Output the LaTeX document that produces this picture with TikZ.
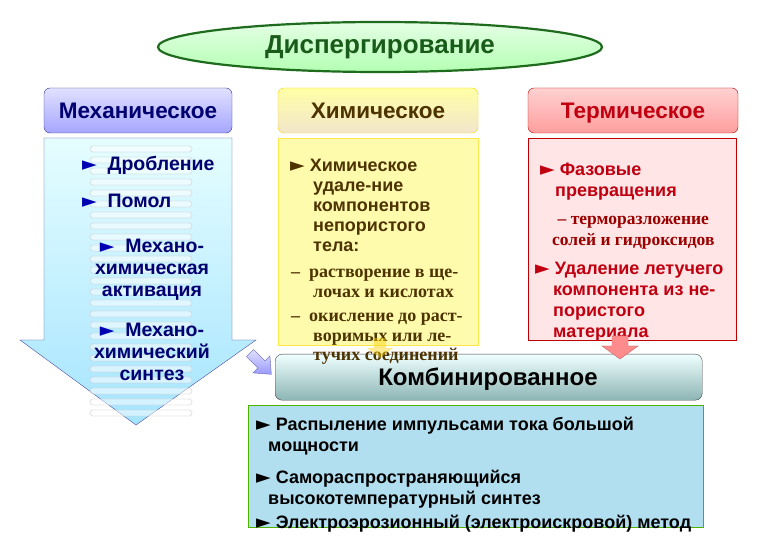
\documentclass[tikz,border=0pt]{standalone}
\usepackage{fontspec}
\setmainfont{Liberation Sans}
\newfontfamily\serifb{Liberation Serif}
\newfontfamily\dvs{DejaVu Sans}
\usetikzlibrary{shapes.geometric,shadings}
\definecolor{navy}{HTML}{000070}
\definecolor{brn}{HTML}{4D3300}
\definecolor{redt}{HTML}{C00010}
\definecolor{dgreen}{HTML}{1E6B1E}
\newcommand{\tri}{{\dvs\fontsize{19}{19}\selectfont ►}}
\tikzset{
  hdr/.style={rounded corners=6pt, minimum height=45pt, inner sep=0pt, text height=16pt, text depth=0pt, font=\bfseries\fontsize{22.5}{26}\selectfont},
  item/.style={anchor=north west, inner sep=0pt, align=left, font=\bfseries\fontsize{18}{21}\selectfont},
  mitem/.style={anchor=north, inner sep=0pt, align=center, font=\bfseries\fontsize{19.5}{22}\selectfont, text=navy},
  sitem/.style={anchor=north west, inner sep=0pt, align=left, font=\serifb\bfseries\fontsize{18}{19.5}\selectfont},
  spring/.style={draw=gray!40, fill=white, opacity=0.5, rounded corners=3pt, line width=0.9pt},
}
\begin{document}
\begin{tikzpicture}[x=1pt,y=-1pt]
\useasboundingbox[fill=white] (0,0) rectangle (780,540);

% ellipse title
\node[ellipse, draw=dgreen, line width=2.2pt, top color=green!10, bottom color=green!30!white,
      minimum width=444pt, minimum height=50pt, inner sep=0pt,
      font=\bfseries\fontsize{26}{28}\selectfont, text=dgreen!85!black] (title) at (380,47) {Диспергирование};

% headers
\node[hdr, draw=navy!80, top color=blue!12, bottom color=blue!35!white, text=navy, minimum width=188pt] (hmech) at (138,110.5) {Механическое};
\node[hdr, draw=yellow!70!orange, top color=yellow!35, bottom color=yellow!20!brown!25, text=brn, minimum width=200pt] (hchem) at (378,110.5) {Химическое};
\node[hdr, draw=red!75!black, top color=red!18, bottom color=red!38, text=redt, minimum width=210pt] (htherm) at (633,110.5) {Термическое};

% mechanical big arrow
\shade[top color=blue!6!cyan!10, bottom color=blue!30!cyan!35!white, draw=blue!45!black!70]
  (44,138) -- (232,138) -- (232,340) -- (256,340) -- (136,425) -- (20,340) -- (44,340) -- cycle;
\coordinate (mtip) at (136,425);
% spring watermark
\foreach \yy in {146,157,...,410} {
  \draw[spring] (90,\yy) rectangle (192,\yy+6);
}

% mechanical items
\node[item, text=navy, font=\bfseries\fontsize{19.5}{22}\selectfont] (m1) at (82,156) {\textcolor{blue!70!black}{\tri}\ \ Дробление};
\node[item, text=navy, font=\bfseries\fontsize{19.5}{22}\selectfont] (m2) at (82,194) {\textcolor{blue!70!black}{\tri}\ \ Помол};
\node[mitem] (m3) at (152,239) {\textcolor{blue!70!black}{\tri}\ \ Механо-\\химическая\\активация};
\node[mitem] (m4) at (152,323) {\textcolor{blue!70!black}{\tri}\ \ Механо-\\химический\\синтез};

% chemical body
\node[draw=yellow!80!orange!70, fill=yellow!32, minimum width=200pt, minimum height=207pt, inner sep=0pt, anchor=north west] (bchem) at (278,138) {};
% thermal body
\node[draw=red!75!black, fill=red!10, minimum width=208pt, minimum height=202pt, inner sep=0pt, anchor=north west] (btherm) at (528,138) {};

% combined
\node[rounded corners=7pt, draw=black!75, top color=cyan!6!white, bottom color=cyan!35!black!45, minimum width=427pt, minimum height=46pt, inner sep=0pt, anchor=north west] (hcomb) at (275,354) {};
\node[font=\bfseries\fontsize{24}{26}\selectfont] (tcomb) at (488,379) {Комбинированное};
\node[draw=green!55!yellow!70!black, fill=cyan!30!white!90!gray, minimum width=455pt, minimum height=122pt, inner sep=0pt, anchor=north west] (bcomb) at (248,405) {};
\node[item, text=black] (k1) at (256,417) {\tri\ Распыление импульсами тока большой\\\hspace*{12pt}мощности};
\node[item, text=black] (k2) at (256,470) {\tri\ Самораспространяющийся\\\hspace*{12pt}высокотемпературный синтез};
\node[item, text=black] (k3) at (256,515) {\tri\ Электроэрозионный (электроискровой) метод};

% chemical text
\node[item, text=brn, font=\bfseries\fontsize{18}{20}\selectfont] (c1) at (290,159) {\tri\ Химическое\\\hspace*{23pt}удале-ние\\\hspace*{23pt}компонентов\\\hspace*{23pt}непористого\\\hspace*{23pt}тела:};
\node[sitem, text=brn] (c2) at (291,269) {–\ \ растворение в ще-\\\hspace*{22pt}лочах и кислотах};
\node[sitem, text=brn] (c3) at (291,313) {–\ \ окисление до раст-\\\hspace*{22pt}воримых или ле-\\\hspace*{22pt}тучих соединений};

% thermal text
\node[item, text=redt] (t1) at (540,163) {\tri\ Фазовые\\\hspace*{15pt}превращения};
\node[sitem, text=red!60!black, align=center, font=\serifb\bfseries\fontsize{17.5}{21}\selectfont] (t2) at (552,216) {– терморазложение\\солей и гидроксидов};
\node[item, text=redt] (t3) at (535,262) {\tri\ Удаление летучего\\\hspace*{18pt}компонента из не-\\\hspace*{18pt}пористого\\\hspace*{18pt}материала};

% small arrows
\fill[yellow!70!orange, opacity=0.45] (374,338) rectangle (386,348);
\fill[yellow!70!orange, opacity=0.45] (367,348) -- (393,348) -- (380,358) -- cycle;
\draw[draw=red!60!black!60, fill=red!45!white] (612,336) -- (628,336) -- (628,346) -- (638,346) -- (620,359) -- (602,346) -- (612,346) -- cycle;
\coordinate (rtip) at (620,359);
\begin{scope}[shift={(260,363)}, rotate=-45]
\shade[top color=blue!12, bottom color=blue!40, draw=blue!50!black!60]
 (-14,-5) -- (2,-5) -- (2,-12) -- (16,0) -- (2,12) -- (2,5) -- (-14,5) -- cycle;
\end{scope}
\coordinate (btip) at (271,374);
\end{tikzpicture}
\end{document}
